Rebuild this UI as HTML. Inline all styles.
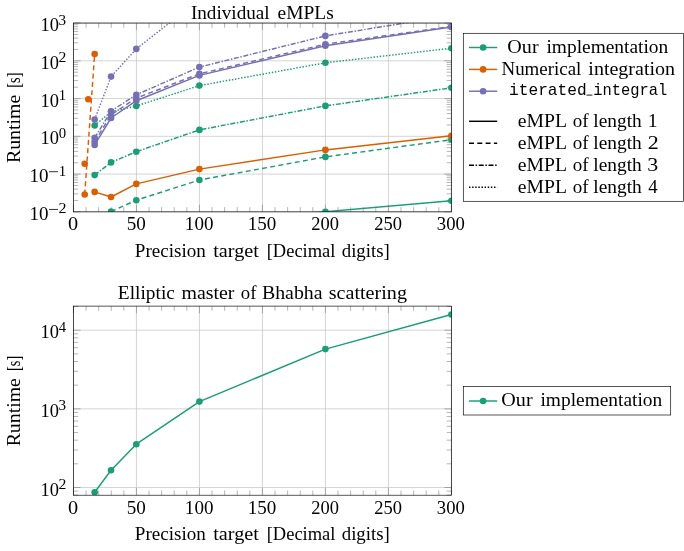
<!DOCTYPE html>
<html><head><meta charset="utf-8"><title>chart</title>
<style>
html,body{margin:0;padding:0;background:#fff;}
body{width:684px;height:551px;overflow:hidden;font-family:"Liberation Serif",serif;}
svg{display:block;will-change:transform;}
text{fill:#000;}
</style></head><body>
<svg width="684" height="551" viewBox="0 0 684 551">
<rect width="684" height="551" fill="#fff"/>
<defs><clipPath id="c1"><rect x="73.45" y="23.05" width="377.95" height="188.8"/></clipPath><clipPath id="c2"><rect x="73.45" y="306.1" width="377.95" height="189.1"/></clipPath></defs>
<line x1="73.45" y1="23.05" x2="73.45" y2="211.85" stroke="#bfbfbf" stroke-width="0.66"/>
<line x1="136.44" y1="23.05" x2="136.44" y2="211.85" stroke="#bfbfbf" stroke-width="0.66"/>
<line x1="199.43" y1="23.05" x2="199.43" y2="211.85" stroke="#bfbfbf" stroke-width="0.66"/>
<line x1="262.43" y1="23.05" x2="262.43" y2="211.85" stroke="#bfbfbf" stroke-width="0.66"/>
<line x1="325.42" y1="23.05" x2="325.42" y2="211.85" stroke="#bfbfbf" stroke-width="0.66"/>
<line x1="388.41" y1="23.05" x2="388.41" y2="211.85" stroke="#bfbfbf" stroke-width="0.66"/>
<line x1="451.4" y1="23.05" x2="451.4" y2="211.85" stroke="#bfbfbf" stroke-width="0.66"/>
<line x1="73.45" y1="211.85" x2="451.4" y2="211.85" stroke="#bfbfbf" stroke-width="0.66"/>
<line x1="73.45" y1="174.09" x2="451.4" y2="174.09" stroke="#bfbfbf" stroke-width="0.66"/>
<line x1="73.45" y1="136.33" x2="451.4" y2="136.33" stroke="#bfbfbf" stroke-width="0.66"/>
<line x1="73.45" y1="98.57" x2="451.4" y2="98.57" stroke="#bfbfbf" stroke-width="0.66"/>
<line x1="73.45" y1="60.81" x2="451.4" y2="60.81" stroke="#bfbfbf" stroke-width="0.66"/>
<line x1="73.45" y1="23.05" x2="451.4" y2="23.05" stroke="#bfbfbf" stroke-width="0.66"/>
<line x1="73.45" y1="211.85" x2="73.45" y2="204.76" stroke="#747474" stroke-width="0.53"/>
<line x1="73.45" y1="23.05" x2="73.45" y2="30.14" stroke="#747474" stroke-width="0.53"/>
<line x1="86.05" y1="211.85" x2="86.05" y2="207.13" stroke="#747474" stroke-width="0.53"/>
<line x1="86.05" y1="23.05" x2="86.05" y2="27.77" stroke="#747474" stroke-width="0.53"/>
<line x1="98.65" y1="211.85" x2="98.65" y2="207.13" stroke="#747474" stroke-width="0.53"/>
<line x1="98.65" y1="23.05" x2="98.65" y2="27.77" stroke="#747474" stroke-width="0.53"/>
<line x1="111.25" y1="211.85" x2="111.25" y2="207.13" stroke="#747474" stroke-width="0.53"/>
<line x1="111.25" y1="23.05" x2="111.25" y2="27.77" stroke="#747474" stroke-width="0.53"/>
<line x1="123.84" y1="211.85" x2="123.84" y2="207.13" stroke="#747474" stroke-width="0.53"/>
<line x1="123.84" y1="23.05" x2="123.84" y2="27.77" stroke="#747474" stroke-width="0.53"/>
<line x1="136.44" y1="211.85" x2="136.44" y2="204.76" stroke="#747474" stroke-width="0.53"/>
<line x1="136.44" y1="23.05" x2="136.44" y2="30.14" stroke="#747474" stroke-width="0.53"/>
<line x1="149.04" y1="211.85" x2="149.04" y2="207.13" stroke="#747474" stroke-width="0.53"/>
<line x1="149.04" y1="23.05" x2="149.04" y2="27.77" stroke="#747474" stroke-width="0.53"/>
<line x1="161.64" y1="211.85" x2="161.64" y2="207.13" stroke="#747474" stroke-width="0.53"/>
<line x1="161.64" y1="23.05" x2="161.64" y2="27.77" stroke="#747474" stroke-width="0.53"/>
<line x1="174.24" y1="211.85" x2="174.24" y2="207.13" stroke="#747474" stroke-width="0.53"/>
<line x1="174.24" y1="23.05" x2="174.24" y2="27.77" stroke="#747474" stroke-width="0.53"/>
<line x1="186.84" y1="211.85" x2="186.84" y2="207.13" stroke="#747474" stroke-width="0.53"/>
<line x1="186.84" y1="23.05" x2="186.84" y2="27.77" stroke="#747474" stroke-width="0.53"/>
<line x1="199.43" y1="211.85" x2="199.43" y2="204.76" stroke="#747474" stroke-width="0.53"/>
<line x1="199.43" y1="23.05" x2="199.43" y2="30.14" stroke="#747474" stroke-width="0.53"/>
<line x1="212.03" y1="211.85" x2="212.03" y2="207.13" stroke="#747474" stroke-width="0.53"/>
<line x1="212.03" y1="23.05" x2="212.03" y2="27.77" stroke="#747474" stroke-width="0.53"/>
<line x1="224.63" y1="211.85" x2="224.63" y2="207.13" stroke="#747474" stroke-width="0.53"/>
<line x1="224.63" y1="23.05" x2="224.63" y2="27.77" stroke="#747474" stroke-width="0.53"/>
<line x1="237.23" y1="211.85" x2="237.23" y2="207.13" stroke="#747474" stroke-width="0.53"/>
<line x1="237.23" y1="23.05" x2="237.23" y2="27.77" stroke="#747474" stroke-width="0.53"/>
<line x1="249.83" y1="211.85" x2="249.83" y2="207.13" stroke="#747474" stroke-width="0.53"/>
<line x1="249.83" y1="23.05" x2="249.83" y2="27.77" stroke="#747474" stroke-width="0.53"/>
<line x1="262.43" y1="211.85" x2="262.43" y2="204.76" stroke="#747474" stroke-width="0.53"/>
<line x1="262.43" y1="23.05" x2="262.43" y2="30.14" stroke="#747474" stroke-width="0.53"/>
<line x1="275.02" y1="211.85" x2="275.02" y2="207.13" stroke="#747474" stroke-width="0.53"/>
<line x1="275.02" y1="23.05" x2="275.02" y2="27.77" stroke="#747474" stroke-width="0.53"/>
<line x1="287.62" y1="211.85" x2="287.62" y2="207.13" stroke="#747474" stroke-width="0.53"/>
<line x1="287.62" y1="23.05" x2="287.62" y2="27.77" stroke="#747474" stroke-width="0.53"/>
<line x1="300.22" y1="211.85" x2="300.22" y2="207.13" stroke="#747474" stroke-width="0.53"/>
<line x1="300.22" y1="23.05" x2="300.22" y2="27.77" stroke="#747474" stroke-width="0.53"/>
<line x1="312.82" y1="211.85" x2="312.82" y2="207.13" stroke="#747474" stroke-width="0.53"/>
<line x1="312.82" y1="23.05" x2="312.82" y2="27.77" stroke="#747474" stroke-width="0.53"/>
<line x1="325.42" y1="211.85" x2="325.42" y2="204.76" stroke="#747474" stroke-width="0.53"/>
<line x1="325.42" y1="23.05" x2="325.42" y2="30.14" stroke="#747474" stroke-width="0.53"/>
<line x1="338.01" y1="211.85" x2="338.01" y2="207.13" stroke="#747474" stroke-width="0.53"/>
<line x1="338.01" y1="23.05" x2="338.01" y2="27.77" stroke="#747474" stroke-width="0.53"/>
<line x1="350.61" y1="211.85" x2="350.61" y2="207.13" stroke="#747474" stroke-width="0.53"/>
<line x1="350.61" y1="23.05" x2="350.61" y2="27.77" stroke="#747474" stroke-width="0.53"/>
<line x1="363.21" y1="211.85" x2="363.21" y2="207.13" stroke="#747474" stroke-width="0.53"/>
<line x1="363.21" y1="23.05" x2="363.21" y2="27.77" stroke="#747474" stroke-width="0.53"/>
<line x1="375.81" y1="211.85" x2="375.81" y2="207.13" stroke="#747474" stroke-width="0.53"/>
<line x1="375.81" y1="23.05" x2="375.81" y2="27.77" stroke="#747474" stroke-width="0.53"/>
<line x1="388.41" y1="211.85" x2="388.41" y2="204.76" stroke="#747474" stroke-width="0.53"/>
<line x1="388.41" y1="23.05" x2="388.41" y2="30.14" stroke="#747474" stroke-width="0.53"/>
<line x1="401.01" y1="211.85" x2="401.01" y2="207.13" stroke="#747474" stroke-width="0.53"/>
<line x1="401.01" y1="23.05" x2="401.01" y2="27.77" stroke="#747474" stroke-width="0.53"/>
<line x1="413.6" y1="211.85" x2="413.6" y2="207.13" stroke="#747474" stroke-width="0.53"/>
<line x1="413.6" y1="23.05" x2="413.6" y2="27.77" stroke="#747474" stroke-width="0.53"/>
<line x1="426.2" y1="211.85" x2="426.2" y2="207.13" stroke="#747474" stroke-width="0.53"/>
<line x1="426.2" y1="23.05" x2="426.2" y2="27.77" stroke="#747474" stroke-width="0.53"/>
<line x1="438.8" y1="211.85" x2="438.8" y2="207.13" stroke="#747474" stroke-width="0.53"/>
<line x1="438.8" y1="23.05" x2="438.8" y2="27.77" stroke="#747474" stroke-width="0.53"/>
<line x1="451.4" y1="211.85" x2="451.4" y2="204.76" stroke="#747474" stroke-width="0.53"/>
<line x1="451.4" y1="23.05" x2="451.4" y2="30.14" stroke="#747474" stroke-width="0.53"/>
<line x1="73.45" y1="211.85" x2="80.54" y2="211.85" stroke="#747474" stroke-width="0.53"/>
<line x1="451.4" y1="211.85" x2="444.31" y2="211.85" stroke="#747474" stroke-width="0.53"/>
<line x1="73.45" y1="200.48" x2="78.17" y2="200.48" stroke="#747474" stroke-width="0.53"/>
<line x1="451.4" y1="200.48" x2="446.68" y2="200.48" stroke="#747474" stroke-width="0.53"/>
<line x1="73.45" y1="193.83" x2="78.17" y2="193.83" stroke="#747474" stroke-width="0.53"/>
<line x1="451.4" y1="193.83" x2="446.68" y2="193.83" stroke="#747474" stroke-width="0.53"/>
<line x1="73.45" y1="189.12" x2="78.17" y2="189.12" stroke="#747474" stroke-width="0.53"/>
<line x1="451.4" y1="189.12" x2="446.68" y2="189.12" stroke="#747474" stroke-width="0.53"/>
<line x1="73.45" y1="185.46" x2="78.17" y2="185.46" stroke="#747474" stroke-width="0.53"/>
<line x1="451.4" y1="185.46" x2="446.68" y2="185.46" stroke="#747474" stroke-width="0.53"/>
<line x1="73.45" y1="182.47" x2="78.17" y2="182.47" stroke="#747474" stroke-width="0.53"/>
<line x1="451.4" y1="182.47" x2="446.68" y2="182.47" stroke="#747474" stroke-width="0.53"/>
<line x1="73.45" y1="179.94" x2="78.17" y2="179.94" stroke="#747474" stroke-width="0.53"/>
<line x1="451.4" y1="179.94" x2="446.68" y2="179.94" stroke="#747474" stroke-width="0.53"/>
<line x1="73.45" y1="177.75" x2="78.17" y2="177.75" stroke="#747474" stroke-width="0.53"/>
<line x1="451.4" y1="177.75" x2="446.68" y2="177.75" stroke="#747474" stroke-width="0.53"/>
<line x1="73.45" y1="175.82" x2="78.17" y2="175.82" stroke="#747474" stroke-width="0.53"/>
<line x1="451.4" y1="175.82" x2="446.68" y2="175.82" stroke="#747474" stroke-width="0.53"/>
<line x1="73.45" y1="174.09" x2="80.54" y2="174.09" stroke="#747474" stroke-width="0.53"/>
<line x1="451.4" y1="174.09" x2="444.31" y2="174.09" stroke="#747474" stroke-width="0.53"/>
<line x1="73.45" y1="162.72" x2="78.17" y2="162.72" stroke="#747474" stroke-width="0.53"/>
<line x1="451.4" y1="162.72" x2="446.68" y2="162.72" stroke="#747474" stroke-width="0.53"/>
<line x1="73.45" y1="156.07" x2="78.17" y2="156.07" stroke="#747474" stroke-width="0.53"/>
<line x1="451.4" y1="156.07" x2="446.68" y2="156.07" stroke="#747474" stroke-width="0.53"/>
<line x1="73.45" y1="151.36" x2="78.17" y2="151.36" stroke="#747474" stroke-width="0.53"/>
<line x1="451.4" y1="151.36" x2="446.68" y2="151.36" stroke="#747474" stroke-width="0.53"/>
<line x1="73.45" y1="147.7" x2="78.17" y2="147.7" stroke="#747474" stroke-width="0.53"/>
<line x1="451.4" y1="147.7" x2="446.68" y2="147.7" stroke="#747474" stroke-width="0.53"/>
<line x1="73.45" y1="144.71" x2="78.17" y2="144.71" stroke="#747474" stroke-width="0.53"/>
<line x1="451.4" y1="144.71" x2="446.68" y2="144.71" stroke="#747474" stroke-width="0.53"/>
<line x1="73.45" y1="142.18" x2="78.17" y2="142.18" stroke="#747474" stroke-width="0.53"/>
<line x1="451.4" y1="142.18" x2="446.68" y2="142.18" stroke="#747474" stroke-width="0.53"/>
<line x1="73.45" y1="139.99" x2="78.17" y2="139.99" stroke="#747474" stroke-width="0.53"/>
<line x1="451.4" y1="139.99" x2="446.68" y2="139.99" stroke="#747474" stroke-width="0.53"/>
<line x1="73.45" y1="138.06" x2="78.17" y2="138.06" stroke="#747474" stroke-width="0.53"/>
<line x1="451.4" y1="138.06" x2="446.68" y2="138.06" stroke="#747474" stroke-width="0.53"/>
<line x1="73.45" y1="136.33" x2="80.54" y2="136.33" stroke="#747474" stroke-width="0.53"/>
<line x1="451.4" y1="136.33" x2="444.31" y2="136.33" stroke="#747474" stroke-width="0.53"/>
<line x1="73.45" y1="124.96" x2="78.17" y2="124.96" stroke="#747474" stroke-width="0.53"/>
<line x1="451.4" y1="124.96" x2="446.68" y2="124.96" stroke="#747474" stroke-width="0.53"/>
<line x1="73.45" y1="118.31" x2="78.17" y2="118.31" stroke="#747474" stroke-width="0.53"/>
<line x1="451.4" y1="118.31" x2="446.68" y2="118.31" stroke="#747474" stroke-width="0.53"/>
<line x1="73.45" y1="113.6" x2="78.17" y2="113.6" stroke="#747474" stroke-width="0.53"/>
<line x1="451.4" y1="113.6" x2="446.68" y2="113.6" stroke="#747474" stroke-width="0.53"/>
<line x1="73.45" y1="109.94" x2="78.17" y2="109.94" stroke="#747474" stroke-width="0.53"/>
<line x1="451.4" y1="109.94" x2="446.68" y2="109.94" stroke="#747474" stroke-width="0.53"/>
<line x1="73.45" y1="106.95" x2="78.17" y2="106.95" stroke="#747474" stroke-width="0.53"/>
<line x1="451.4" y1="106.95" x2="446.68" y2="106.95" stroke="#747474" stroke-width="0.53"/>
<line x1="73.45" y1="104.42" x2="78.17" y2="104.42" stroke="#747474" stroke-width="0.53"/>
<line x1="451.4" y1="104.42" x2="446.68" y2="104.42" stroke="#747474" stroke-width="0.53"/>
<line x1="73.45" y1="102.23" x2="78.17" y2="102.23" stroke="#747474" stroke-width="0.53"/>
<line x1="451.4" y1="102.23" x2="446.68" y2="102.23" stroke="#747474" stroke-width="0.53"/>
<line x1="73.45" y1="100.3" x2="78.17" y2="100.3" stroke="#747474" stroke-width="0.53"/>
<line x1="451.4" y1="100.3" x2="446.68" y2="100.3" stroke="#747474" stroke-width="0.53"/>
<line x1="73.45" y1="98.57" x2="80.54" y2="98.57" stroke="#747474" stroke-width="0.53"/>
<line x1="451.4" y1="98.57" x2="444.31" y2="98.57" stroke="#747474" stroke-width="0.53"/>
<line x1="73.45" y1="87.2" x2="78.17" y2="87.2" stroke="#747474" stroke-width="0.53"/>
<line x1="451.4" y1="87.2" x2="446.68" y2="87.2" stroke="#747474" stroke-width="0.53"/>
<line x1="73.45" y1="80.55" x2="78.17" y2="80.55" stroke="#747474" stroke-width="0.53"/>
<line x1="451.4" y1="80.55" x2="446.68" y2="80.55" stroke="#747474" stroke-width="0.53"/>
<line x1="73.45" y1="75.84" x2="78.17" y2="75.84" stroke="#747474" stroke-width="0.53"/>
<line x1="451.4" y1="75.84" x2="446.68" y2="75.84" stroke="#747474" stroke-width="0.53"/>
<line x1="73.45" y1="72.18" x2="78.17" y2="72.18" stroke="#747474" stroke-width="0.53"/>
<line x1="451.4" y1="72.18" x2="446.68" y2="72.18" stroke="#747474" stroke-width="0.53"/>
<line x1="73.45" y1="69.19" x2="78.17" y2="69.19" stroke="#747474" stroke-width="0.53"/>
<line x1="451.4" y1="69.19" x2="446.68" y2="69.19" stroke="#747474" stroke-width="0.53"/>
<line x1="73.45" y1="66.66" x2="78.17" y2="66.66" stroke="#747474" stroke-width="0.53"/>
<line x1="451.4" y1="66.66" x2="446.68" y2="66.66" stroke="#747474" stroke-width="0.53"/>
<line x1="73.45" y1="64.47" x2="78.17" y2="64.47" stroke="#747474" stroke-width="0.53"/>
<line x1="451.4" y1="64.47" x2="446.68" y2="64.47" stroke="#747474" stroke-width="0.53"/>
<line x1="73.45" y1="62.54" x2="78.17" y2="62.54" stroke="#747474" stroke-width="0.53"/>
<line x1="451.4" y1="62.54" x2="446.68" y2="62.54" stroke="#747474" stroke-width="0.53"/>
<line x1="73.45" y1="60.81" x2="80.54" y2="60.81" stroke="#747474" stroke-width="0.53"/>
<line x1="451.4" y1="60.81" x2="444.31" y2="60.81" stroke="#747474" stroke-width="0.53"/>
<line x1="73.45" y1="49.44" x2="78.17" y2="49.44" stroke="#747474" stroke-width="0.53"/>
<line x1="451.4" y1="49.44" x2="446.68" y2="49.44" stroke="#747474" stroke-width="0.53"/>
<line x1="73.45" y1="42.79" x2="78.17" y2="42.79" stroke="#747474" stroke-width="0.53"/>
<line x1="451.4" y1="42.79" x2="446.68" y2="42.79" stroke="#747474" stroke-width="0.53"/>
<line x1="73.45" y1="38.08" x2="78.17" y2="38.08" stroke="#747474" stroke-width="0.53"/>
<line x1="451.4" y1="38.08" x2="446.68" y2="38.08" stroke="#747474" stroke-width="0.53"/>
<line x1="73.45" y1="34.42" x2="78.17" y2="34.42" stroke="#747474" stroke-width="0.53"/>
<line x1="451.4" y1="34.42" x2="446.68" y2="34.42" stroke="#747474" stroke-width="0.53"/>
<line x1="73.45" y1="31.43" x2="78.17" y2="31.43" stroke="#747474" stroke-width="0.53"/>
<line x1="451.4" y1="31.43" x2="446.68" y2="31.43" stroke="#747474" stroke-width="0.53"/>
<line x1="73.45" y1="28.9" x2="78.17" y2="28.9" stroke="#747474" stroke-width="0.53"/>
<line x1="451.4" y1="28.9" x2="446.68" y2="28.9" stroke="#747474" stroke-width="0.53"/>
<line x1="73.45" y1="26.71" x2="78.17" y2="26.71" stroke="#747474" stroke-width="0.53"/>
<line x1="451.4" y1="26.71" x2="446.68" y2="26.71" stroke="#747474" stroke-width="0.53"/>
<line x1="73.45" y1="24.78" x2="78.17" y2="24.78" stroke="#747474" stroke-width="0.53"/>
<line x1="451.4" y1="24.78" x2="446.68" y2="24.78" stroke="#747474" stroke-width="0.53"/>
<line x1="73.45" y1="23.05" x2="80.54" y2="23.05" stroke="#747474" stroke-width="0.53"/>
<line x1="451.4" y1="23.05" x2="444.31" y2="23.05" stroke="#747474" stroke-width="0.53"/>
<g clip-path="url(#c1)">
<polyline points="199.4,222 325.4,211.7 451.4,200.7" fill="none" stroke="#1b9e77" stroke-width="1.46" stroke-linejoin="round"/>
<circle cx="199.4" cy="222" r="3.3" fill="#1b9e77"/>
<circle cx="325.4" cy="211.7" r="3.3" fill="#1b9e77"/>
<circle cx="451.4" cy="200.7" r="3.3" fill="#1b9e77"/>
<polyline points="111.05,211.6 136.3,200.2 199.4,180 325.4,156.9 451.4,139.7" fill="none" stroke="#1b9e77" stroke-width="1.46" stroke-dasharray="4.98 3.32" stroke-linejoin="round"/>
<circle cx="111.05" cy="211.6" r="3.3" fill="#1b9e77"/>
<circle cx="136.3" cy="200.2" r="3.3" fill="#1b9e77"/>
<circle cx="199.4" cy="180" r="3.3" fill="#1b9e77"/>
<circle cx="325.4" cy="156.9" r="3.3" fill="#1b9e77"/>
<circle cx="451.4" cy="139.7" r="3.3" fill="#1b9e77"/>
<polyline points="94.65,175.1 111.05,162.4 136.3,151.7 199.4,129.9 325.4,105.9 451.4,87.8" fill="none" stroke="#1b9e77" stroke-width="1.46" stroke-dasharray="4.98 1.66 1.46 1.66" stroke-linejoin="round"/>
<circle cx="94.65" cy="175.1" r="3.3" fill="#1b9e77"/>
<circle cx="111.05" cy="162.4" r="3.3" fill="#1b9e77"/>
<circle cx="136.3" cy="151.7" r="3.3" fill="#1b9e77"/>
<circle cx="199.4" cy="129.9" r="3.3" fill="#1b9e77"/>
<circle cx="325.4" cy="105.9" r="3.3" fill="#1b9e77"/>
<circle cx="451.4" cy="87.8" r="3.3" fill="#1b9e77"/>
<polyline points="94.65,125.5 111.05,111.7 136.3,106 199.4,85.6 325.4,62.8 451.4,48.2" fill="none" stroke="#1b9e77" stroke-width="1.46" stroke-dasharray="1.46 1.66" stroke-linejoin="round"/>
<circle cx="94.65" cy="125.5" r="3.3" fill="#1b9e77"/>
<circle cx="111.05" cy="111.7" r="3.3" fill="#1b9e77"/>
<circle cx="136.3" cy="106" r="3.3" fill="#1b9e77"/>
<circle cx="199.4" cy="85.6" r="3.3" fill="#1b9e77"/>
<circle cx="325.4" cy="62.8" r="3.3" fill="#1b9e77"/>
<circle cx="451.4" cy="48.2" r="3.3" fill="#1b9e77"/>
<polyline points="94.65,191.9 111.05,197 136.3,183.9 199.4,169.1 325.4,149.9 451.4,135.7" fill="none" stroke="#d95f02" stroke-width="1.46" stroke-linejoin="round"/>
<circle cx="94.65" cy="191.9" r="3.3" fill="#d95f02"/>
<circle cx="111.05" cy="197" r="3.3" fill="#d95f02"/>
<circle cx="136.3" cy="183.9" r="3.3" fill="#d95f02"/>
<circle cx="199.4" cy="169.1" r="3.3" fill="#d95f02"/>
<circle cx="325.4" cy="149.9" r="3.3" fill="#d95f02"/>
<circle cx="451.4" cy="135.7" r="3.3" fill="#d95f02"/>
<polyline points="84.7,194.5 94.65,54.1" fill="none" stroke="#d95f02" stroke-width="1.46" stroke-dasharray="4.98 3.32" stroke-linejoin="round"/>
<circle cx="84.7" cy="194.5" r="3.3" fill="#d95f02"/>
<circle cx="94.65" cy="54.1" r="3.3" fill="#d95f02"/>
<circle cx="84.7" cy="163.8" r="3.3" fill="#d95f02"/>
<circle cx="88.3" cy="99.2" r="3.3" fill="#d95f02"/>
<polyline points="94.65,144.9 111.05,118 136.3,100.7 199.4,75.4 325.4,45.8 451.4,27" fill="none" stroke="#7570b3" stroke-width="1.46" stroke-linejoin="round"/>
<circle cx="94.65" cy="144.9" r="3.3" fill="#7570b3"/>
<circle cx="111.05" cy="118" r="3.3" fill="#7570b3"/>
<circle cx="136.3" cy="100.7" r="3.3" fill="#7570b3"/>
<circle cx="199.4" cy="75.4" r="3.3" fill="#7570b3"/>
<circle cx="325.4" cy="45.8" r="3.3" fill="#7570b3"/>
<circle cx="451.4" cy="27" r="3.3" fill="#7570b3"/>
<polyline points="94.65,141.7 111.05,114.7 136.3,98.1 199.4,73.8 325.4,44.2 451.4,26.4" fill="none" stroke="#7570b3" stroke-width="1.46" stroke-dasharray="4.98 3.32" stroke-linejoin="round"/>
<circle cx="94.65" cy="141.7" r="3.3" fill="#7570b3"/>
<circle cx="111.05" cy="114.7" r="3.3" fill="#7570b3"/>
<circle cx="136.3" cy="98.1" r="3.3" fill="#7570b3"/>
<circle cx="199.4" cy="73.8" r="3.3" fill="#7570b3"/>
<circle cx="325.4" cy="44.2" r="3.3" fill="#7570b3"/>
<circle cx="451.4" cy="26.4" r="3.3" fill="#7570b3"/>
<polyline points="94.65,137.9 111.05,111.2 136.3,94.7 199.4,67.1 325.4,35.9 451.4,15.5" fill="none" stroke="#7570b3" stroke-width="1.46" stroke-dasharray="4.98 1.66 1.46 1.66" stroke-linejoin="round"/>
<circle cx="94.65" cy="137.9" r="3.3" fill="#7570b3"/>
<circle cx="111.05" cy="111.2" r="3.3" fill="#7570b3"/>
<circle cx="136.3" cy="94.7" r="3.3" fill="#7570b3"/>
<circle cx="199.4" cy="67.1" r="3.3" fill="#7570b3"/>
<circle cx="325.4" cy="35.9" r="3.3" fill="#7570b3"/>
<circle cx="451.4" cy="15.5" r="3.3" fill="#7570b3"/>
<polyline points="94.65,119.5 111.05,76.6 136.3,48.9 199.4,-0.6" fill="none" stroke="#7570b3" stroke-width="1.46" stroke-dasharray="1.46 1.66" stroke-linejoin="round"/>
<circle cx="94.65" cy="119.5" r="3.3" fill="#7570b3"/>
<circle cx="111.05" cy="76.6" r="3.3" fill="#7570b3"/>
<circle cx="136.3" cy="48.9" r="3.3" fill="#7570b3"/>
<circle cx="199.4" cy="-0.6" r="3.3" fill="#7570b3"/>
</g>
<rect x="73.45" y="23.05" width="377.95" height="188.8" fill="none" stroke="#000" stroke-width="0.66"/>
<text x="29.53" y="219.85" font-size="18.1" font-family='"Liberation Serif", serif' textLength="19" lengthAdjust="spacingAndGlyphs">10</text>
<line x1="49" y1="209.45" x2="58" y2="209.45" stroke="#000" stroke-width="0.8"/>
<text x="58.4" y="213.45" font-size="15" font-family='"Liberation Serif", serif' textLength="8" lengthAdjust="spacingAndGlyphs">2</text>
<text x="29.53" y="182.09" font-size="18.1" font-family='"Liberation Serif", serif' textLength="19" lengthAdjust="spacingAndGlyphs">10</text>
<line x1="49" y1="171.69" x2="58" y2="171.69" stroke="#000" stroke-width="0.8"/>
<text x="58.66" y="175.69" font-size="15" font-family='"Liberation Serif", serif' textLength="7.43" lengthAdjust="spacingAndGlyphs">1</text>
<text x="40.47" y="144.33" font-size="18.1" font-family='"Liberation Serif", serif' textLength="18.43" lengthAdjust="spacingAndGlyphs">10</text>
<text x="58.81" y="137.93" font-size="15" font-family='"Liberation Serif", serif' textLength="7.38" lengthAdjust="spacingAndGlyphs">0</text>
<text x="40.47" y="106.57" font-size="18.1" font-family='"Liberation Serif", serif' textLength="18.43" lengthAdjust="spacingAndGlyphs">10</text>
<text x="58.79" y="100.17" font-size="15" font-family='"Liberation Serif", serif' textLength="7.29" lengthAdjust="spacingAndGlyphs">1</text>
<text x="40.47" y="68.81" font-size="18.1" font-family='"Liberation Serif", serif' textLength="18.43" lengthAdjust="spacingAndGlyphs">10</text>
<text x="58.51" y="62.41" font-size="15" font-family='"Liberation Serif", serif' textLength="7.87" lengthAdjust="spacingAndGlyphs">2</text>
<text x="40.47" y="31.05" font-size="18.1" font-family='"Liberation Serif", serif' textLength="18.43" lengthAdjust="spacingAndGlyphs">10</text>
<text x="58.54" y="24.65" font-size="15" font-family='"Liberation Serif", serif' textLength="7.56" lengthAdjust="spacingAndGlyphs">3</text>
<text x="68.01" y="230.4" font-size="18.1" font-family='"Liberation Serif", serif' textLength="10.13" lengthAdjust="spacingAndGlyphs">0</text>
<text x="126.75" y="230.4" font-size="18.1" font-family='"Liberation Serif", serif' textLength="19.08" lengthAdjust="spacingAndGlyphs">50</text>
<text x="184.87" y="230.4" font-size="18.1" font-family='"Liberation Serif", serif' textLength="28.55" lengthAdjust="spacingAndGlyphs">100</text>
<text x="247.77" y="230.4" font-size="18.1" font-family='"Liberation Serif", serif' textLength="28.55" lengthAdjust="spacingAndGlyphs">150</text>
<text x="311.28" y="230.4" font-size="18.1" font-family='"Liberation Serif", serif' textLength="27.72" lengthAdjust="spacingAndGlyphs">200</text>
<text x="374.33" y="230.4" font-size="18.1" font-family='"Liberation Serif", serif' textLength="27.72" lengthAdjust="spacingAndGlyphs">250</text>
<text x="436.87" y="230.4" font-size="18.1" font-family='"Liberation Serif", serif' textLength="27.99" lengthAdjust="spacingAndGlyphs">300</text>
<text x="190.91" y="18.75" font-size="18.3" font-family='"Liberation Serif", serif' textLength="78.71" lengthAdjust="spacingAndGlyphs">Individual</text>
<text x="277.6" y="18.75" font-size="18.3" font-family='"Liberation Serif", serif' textLength="56.11" lengthAdjust="spacingAndGlyphs">eMPLs</text>
<text x="134.88" y="256.9" font-size="18.3" font-family='"Liberation Serif", serif' textLength="71.03" lengthAdjust="spacingAndGlyphs">Precision</text>
<text x="213.22" y="256.9" font-size="18.3" font-family='"Liberation Serif", serif' textLength="45.73" lengthAdjust="spacingAndGlyphs">target</text>
<text x="266.69" y="256.9" font-size="18.3" font-family='"Liberation Serif", serif' textLength="68.78" lengthAdjust="spacingAndGlyphs">[Decimal</text>
<text x="341.73" y="256.9" font-size="18.3" font-family='"Liberation Serif", serif' textLength="48.1" lengthAdjust="spacingAndGlyphs">digits]</text>
<g transform="translate(20.35,117.6) rotate(-90)">
<text x="-45.44" y="0" font-size="18.3" font-family='"Liberation Serif", serif' textLength="68.22" lengthAdjust="spacingAndGlyphs">Runtime</text>
<text x="29.91" y="0" font-size="18.3" font-family='"Liberation Serif", serif' textLength="15.21" lengthAdjust="spacingAndGlyphs">[s]</text>
</g>
<line x1="73.45" y1="306.1" x2="73.45" y2="495.2" stroke="#bfbfbf" stroke-width="0.66"/>
<line x1="136.44" y1="306.1" x2="136.44" y2="495.2" stroke="#bfbfbf" stroke-width="0.66"/>
<line x1="199.43" y1="306.1" x2="199.43" y2="495.2" stroke="#bfbfbf" stroke-width="0.66"/>
<line x1="262.43" y1="306.1" x2="262.43" y2="495.2" stroke="#bfbfbf" stroke-width="0.66"/>
<line x1="325.42" y1="306.1" x2="325.42" y2="495.2" stroke="#bfbfbf" stroke-width="0.66"/>
<line x1="388.41" y1="306.1" x2="388.41" y2="495.2" stroke="#bfbfbf" stroke-width="0.66"/>
<line x1="451.4" y1="306.1" x2="451.4" y2="495.2" stroke="#bfbfbf" stroke-width="0.66"/>
<line x1="73.45" y1="487.5" x2="451.4" y2="487.5" stroke="#bfbfbf" stroke-width="0.66"/>
<line x1="73.45" y1="408.85" x2="451.4" y2="408.85" stroke="#bfbfbf" stroke-width="0.66"/>
<line x1="73.45" y1="330.2" x2="451.4" y2="330.2" stroke="#bfbfbf" stroke-width="0.66"/>
<line x1="73.45" y1="495.2" x2="73.45" y2="488.11" stroke="#747474" stroke-width="0.53"/>
<line x1="73.45" y1="306.1" x2="73.45" y2="313.19" stroke="#747474" stroke-width="0.53"/>
<line x1="86.05" y1="495.2" x2="86.05" y2="490.48" stroke="#747474" stroke-width="0.53"/>
<line x1="86.05" y1="306.1" x2="86.05" y2="310.82" stroke="#747474" stroke-width="0.53"/>
<line x1="98.65" y1="495.2" x2="98.65" y2="490.48" stroke="#747474" stroke-width="0.53"/>
<line x1="98.65" y1="306.1" x2="98.65" y2="310.82" stroke="#747474" stroke-width="0.53"/>
<line x1="111.25" y1="495.2" x2="111.25" y2="490.48" stroke="#747474" stroke-width="0.53"/>
<line x1="111.25" y1="306.1" x2="111.25" y2="310.82" stroke="#747474" stroke-width="0.53"/>
<line x1="123.84" y1="495.2" x2="123.84" y2="490.48" stroke="#747474" stroke-width="0.53"/>
<line x1="123.84" y1="306.1" x2="123.84" y2="310.82" stroke="#747474" stroke-width="0.53"/>
<line x1="136.44" y1="495.2" x2="136.44" y2="488.11" stroke="#747474" stroke-width="0.53"/>
<line x1="136.44" y1="306.1" x2="136.44" y2="313.19" stroke="#747474" stroke-width="0.53"/>
<line x1="149.04" y1="495.2" x2="149.04" y2="490.48" stroke="#747474" stroke-width="0.53"/>
<line x1="149.04" y1="306.1" x2="149.04" y2="310.82" stroke="#747474" stroke-width="0.53"/>
<line x1="161.64" y1="495.2" x2="161.64" y2="490.48" stroke="#747474" stroke-width="0.53"/>
<line x1="161.64" y1="306.1" x2="161.64" y2="310.82" stroke="#747474" stroke-width="0.53"/>
<line x1="174.24" y1="495.2" x2="174.24" y2="490.48" stroke="#747474" stroke-width="0.53"/>
<line x1="174.24" y1="306.1" x2="174.24" y2="310.82" stroke="#747474" stroke-width="0.53"/>
<line x1="186.84" y1="495.2" x2="186.84" y2="490.48" stroke="#747474" stroke-width="0.53"/>
<line x1="186.84" y1="306.1" x2="186.84" y2="310.82" stroke="#747474" stroke-width="0.53"/>
<line x1="199.43" y1="495.2" x2="199.43" y2="488.11" stroke="#747474" stroke-width="0.53"/>
<line x1="199.43" y1="306.1" x2="199.43" y2="313.19" stroke="#747474" stroke-width="0.53"/>
<line x1="212.03" y1="495.2" x2="212.03" y2="490.48" stroke="#747474" stroke-width="0.53"/>
<line x1="212.03" y1="306.1" x2="212.03" y2="310.82" stroke="#747474" stroke-width="0.53"/>
<line x1="224.63" y1="495.2" x2="224.63" y2="490.48" stroke="#747474" stroke-width="0.53"/>
<line x1="224.63" y1="306.1" x2="224.63" y2="310.82" stroke="#747474" stroke-width="0.53"/>
<line x1="237.23" y1="495.2" x2="237.23" y2="490.48" stroke="#747474" stroke-width="0.53"/>
<line x1="237.23" y1="306.1" x2="237.23" y2="310.82" stroke="#747474" stroke-width="0.53"/>
<line x1="249.83" y1="495.2" x2="249.83" y2="490.48" stroke="#747474" stroke-width="0.53"/>
<line x1="249.83" y1="306.1" x2="249.83" y2="310.82" stroke="#747474" stroke-width="0.53"/>
<line x1="262.43" y1="495.2" x2="262.43" y2="488.11" stroke="#747474" stroke-width="0.53"/>
<line x1="262.43" y1="306.1" x2="262.43" y2="313.19" stroke="#747474" stroke-width="0.53"/>
<line x1="275.02" y1="495.2" x2="275.02" y2="490.48" stroke="#747474" stroke-width="0.53"/>
<line x1="275.02" y1="306.1" x2="275.02" y2="310.82" stroke="#747474" stroke-width="0.53"/>
<line x1="287.62" y1="495.2" x2="287.62" y2="490.48" stroke="#747474" stroke-width="0.53"/>
<line x1="287.62" y1="306.1" x2="287.62" y2="310.82" stroke="#747474" stroke-width="0.53"/>
<line x1="300.22" y1="495.2" x2="300.22" y2="490.48" stroke="#747474" stroke-width="0.53"/>
<line x1="300.22" y1="306.1" x2="300.22" y2="310.82" stroke="#747474" stroke-width="0.53"/>
<line x1="312.82" y1="495.2" x2="312.82" y2="490.48" stroke="#747474" stroke-width="0.53"/>
<line x1="312.82" y1="306.1" x2="312.82" y2="310.82" stroke="#747474" stroke-width="0.53"/>
<line x1="325.42" y1="495.2" x2="325.42" y2="488.11" stroke="#747474" stroke-width="0.53"/>
<line x1="325.42" y1="306.1" x2="325.42" y2="313.19" stroke="#747474" stroke-width="0.53"/>
<line x1="338.01" y1="495.2" x2="338.01" y2="490.48" stroke="#747474" stroke-width="0.53"/>
<line x1="338.01" y1="306.1" x2="338.01" y2="310.82" stroke="#747474" stroke-width="0.53"/>
<line x1="350.61" y1="495.2" x2="350.61" y2="490.48" stroke="#747474" stroke-width="0.53"/>
<line x1="350.61" y1="306.1" x2="350.61" y2="310.82" stroke="#747474" stroke-width="0.53"/>
<line x1="363.21" y1="495.2" x2="363.21" y2="490.48" stroke="#747474" stroke-width="0.53"/>
<line x1="363.21" y1="306.1" x2="363.21" y2="310.82" stroke="#747474" stroke-width="0.53"/>
<line x1="375.81" y1="495.2" x2="375.81" y2="490.48" stroke="#747474" stroke-width="0.53"/>
<line x1="375.81" y1="306.1" x2="375.81" y2="310.82" stroke="#747474" stroke-width="0.53"/>
<line x1="388.41" y1="495.2" x2="388.41" y2="488.11" stroke="#747474" stroke-width="0.53"/>
<line x1="388.41" y1="306.1" x2="388.41" y2="313.19" stroke="#747474" stroke-width="0.53"/>
<line x1="401.01" y1="495.2" x2="401.01" y2="490.48" stroke="#747474" stroke-width="0.53"/>
<line x1="401.01" y1="306.1" x2="401.01" y2="310.82" stroke="#747474" stroke-width="0.53"/>
<line x1="413.6" y1="495.2" x2="413.6" y2="490.48" stroke="#747474" stroke-width="0.53"/>
<line x1="413.6" y1="306.1" x2="413.6" y2="310.82" stroke="#747474" stroke-width="0.53"/>
<line x1="426.2" y1="495.2" x2="426.2" y2="490.48" stroke="#747474" stroke-width="0.53"/>
<line x1="426.2" y1="306.1" x2="426.2" y2="310.82" stroke="#747474" stroke-width="0.53"/>
<line x1="438.8" y1="495.2" x2="438.8" y2="490.48" stroke="#747474" stroke-width="0.53"/>
<line x1="438.8" y1="306.1" x2="438.8" y2="310.82" stroke="#747474" stroke-width="0.53"/>
<line x1="451.4" y1="495.2" x2="451.4" y2="488.11" stroke="#747474" stroke-width="0.53"/>
<line x1="451.4" y1="306.1" x2="451.4" y2="313.19" stroke="#747474" stroke-width="0.53"/>
<line x1="73.45" y1="495.12" x2="78.17" y2="495.12" stroke="#747474" stroke-width="0.53"/>
<line x1="451.4" y1="495.12" x2="446.68" y2="495.12" stroke="#747474" stroke-width="0.53"/>
<line x1="73.45" y1="491.1" x2="78.17" y2="491.1" stroke="#747474" stroke-width="0.53"/>
<line x1="451.4" y1="491.1" x2="446.68" y2="491.1" stroke="#747474" stroke-width="0.53"/>
<line x1="73.45" y1="487.5" x2="80.54" y2="487.5" stroke="#747474" stroke-width="0.53"/>
<line x1="451.4" y1="487.5" x2="444.31" y2="487.5" stroke="#747474" stroke-width="0.53"/>
<line x1="73.45" y1="463.82" x2="78.17" y2="463.82" stroke="#747474" stroke-width="0.53"/>
<line x1="451.4" y1="463.82" x2="446.68" y2="463.82" stroke="#747474" stroke-width="0.53"/>
<line x1="73.45" y1="449.97" x2="78.17" y2="449.97" stroke="#747474" stroke-width="0.53"/>
<line x1="451.4" y1="449.97" x2="446.68" y2="449.97" stroke="#747474" stroke-width="0.53"/>
<line x1="73.45" y1="440.15" x2="78.17" y2="440.15" stroke="#747474" stroke-width="0.53"/>
<line x1="451.4" y1="440.15" x2="446.68" y2="440.15" stroke="#747474" stroke-width="0.53"/>
<line x1="73.45" y1="432.53" x2="78.17" y2="432.53" stroke="#747474" stroke-width="0.53"/>
<line x1="451.4" y1="432.53" x2="446.68" y2="432.53" stroke="#747474" stroke-width="0.53"/>
<line x1="73.45" y1="426.3" x2="78.17" y2="426.3" stroke="#747474" stroke-width="0.53"/>
<line x1="451.4" y1="426.3" x2="446.68" y2="426.3" stroke="#747474" stroke-width="0.53"/>
<line x1="73.45" y1="421.03" x2="78.17" y2="421.03" stroke="#747474" stroke-width="0.53"/>
<line x1="451.4" y1="421.03" x2="446.68" y2="421.03" stroke="#747474" stroke-width="0.53"/>
<line x1="73.45" y1="416.47" x2="78.17" y2="416.47" stroke="#747474" stroke-width="0.53"/>
<line x1="451.4" y1="416.47" x2="446.68" y2="416.47" stroke="#747474" stroke-width="0.53"/>
<line x1="73.45" y1="412.45" x2="78.17" y2="412.45" stroke="#747474" stroke-width="0.53"/>
<line x1="451.4" y1="412.45" x2="446.68" y2="412.45" stroke="#747474" stroke-width="0.53"/>
<line x1="73.45" y1="408.85" x2="80.54" y2="408.85" stroke="#747474" stroke-width="0.53"/>
<line x1="451.4" y1="408.85" x2="444.31" y2="408.85" stroke="#747474" stroke-width="0.53"/>
<line x1="73.45" y1="385.17" x2="78.17" y2="385.17" stroke="#747474" stroke-width="0.53"/>
<line x1="451.4" y1="385.17" x2="446.68" y2="385.17" stroke="#747474" stroke-width="0.53"/>
<line x1="73.45" y1="371.32" x2="78.17" y2="371.32" stroke="#747474" stroke-width="0.53"/>
<line x1="451.4" y1="371.32" x2="446.68" y2="371.32" stroke="#747474" stroke-width="0.53"/>
<line x1="73.45" y1="361.5" x2="78.17" y2="361.5" stroke="#747474" stroke-width="0.53"/>
<line x1="451.4" y1="361.5" x2="446.68" y2="361.5" stroke="#747474" stroke-width="0.53"/>
<line x1="73.45" y1="353.88" x2="78.17" y2="353.88" stroke="#747474" stroke-width="0.53"/>
<line x1="451.4" y1="353.88" x2="446.68" y2="353.88" stroke="#747474" stroke-width="0.53"/>
<line x1="73.45" y1="347.65" x2="78.17" y2="347.65" stroke="#747474" stroke-width="0.53"/>
<line x1="451.4" y1="347.65" x2="446.68" y2="347.65" stroke="#747474" stroke-width="0.53"/>
<line x1="73.45" y1="342.38" x2="78.17" y2="342.38" stroke="#747474" stroke-width="0.53"/>
<line x1="451.4" y1="342.38" x2="446.68" y2="342.38" stroke="#747474" stroke-width="0.53"/>
<line x1="73.45" y1="337.82" x2="78.17" y2="337.82" stroke="#747474" stroke-width="0.53"/>
<line x1="451.4" y1="337.82" x2="446.68" y2="337.82" stroke="#747474" stroke-width="0.53"/>
<line x1="73.45" y1="333.8" x2="78.17" y2="333.8" stroke="#747474" stroke-width="0.53"/>
<line x1="451.4" y1="333.8" x2="446.68" y2="333.8" stroke="#747474" stroke-width="0.53"/>
<line x1="73.45" y1="330.2" x2="80.54" y2="330.2" stroke="#747474" stroke-width="0.53"/>
<line x1="451.4" y1="330.2" x2="444.31" y2="330.2" stroke="#747474" stroke-width="0.53"/>
<line x1="73.45" y1="306.52" x2="78.17" y2="306.52" stroke="#747474" stroke-width="0.53"/>
<line x1="451.4" y1="306.52" x2="446.68" y2="306.52" stroke="#747474" stroke-width="0.53"/>
<g clip-path="url(#c2)">
<polyline points="94.65,492.3 111.05,470.2 136.3,444.2 199.4,401.6 325.4,349.1 451.4,314.5" fill="none" stroke="#1b9e77" stroke-width="1.46" stroke-linejoin="round"/>
<circle cx="94.65" cy="492.3" r="3.3" fill="#1b9e77"/>
<circle cx="111.05" cy="470.2" r="3.3" fill="#1b9e77"/>
<circle cx="136.3" cy="444.2" r="3.3" fill="#1b9e77"/>
<circle cx="199.4" cy="401.6" r="3.3" fill="#1b9e77"/>
<circle cx="325.4" cy="349.1" r="3.3" fill="#1b9e77"/>
<circle cx="451.4" cy="314.5" r="3.3" fill="#1b9e77"/>
</g>
<rect x="73.45" y="306.1" width="377.95" height="189.1" fill="none" stroke="#000" stroke-width="0.66"/>
<text x="40.47" y="495.5" font-size="18.1" font-family='"Liberation Serif", serif' textLength="18.43" lengthAdjust="spacingAndGlyphs">10</text>
<text x="58.51" y="489.1" font-size="15" font-family='"Liberation Serif", serif' textLength="7.87" lengthAdjust="spacingAndGlyphs">2</text>
<text x="40.47" y="416.85" font-size="18.1" font-family='"Liberation Serif", serif' textLength="18.43" lengthAdjust="spacingAndGlyphs">10</text>
<text x="58.54" y="410.45" font-size="15" font-family='"Liberation Serif", serif' textLength="7.56" lengthAdjust="spacingAndGlyphs">3</text>
<text x="40.47" y="338.2" font-size="18.1" font-family='"Liberation Serif", serif' textLength="18.43" lengthAdjust="spacingAndGlyphs">10</text>
<text x="58.76" y="331.8" font-size="15" font-family='"Liberation Serif", serif' textLength="7.29" lengthAdjust="spacingAndGlyphs">4</text>
<text x="68.01" y="513.9" font-size="18.1" font-family='"Liberation Serif", serif' textLength="10.13" lengthAdjust="spacingAndGlyphs">0</text>
<text x="126.75" y="513.9" font-size="18.1" font-family='"Liberation Serif", serif' textLength="19.08" lengthAdjust="spacingAndGlyphs">50</text>
<text x="184.87" y="513.9" font-size="18.1" font-family='"Liberation Serif", serif' textLength="28.55" lengthAdjust="spacingAndGlyphs">100</text>
<text x="247.77" y="513.9" font-size="18.1" font-family='"Liberation Serif", serif' textLength="28.55" lengthAdjust="spacingAndGlyphs">150</text>
<text x="311.28" y="513.9" font-size="18.1" font-family='"Liberation Serif", serif' textLength="27.72" lengthAdjust="spacingAndGlyphs">200</text>
<text x="374.33" y="513.9" font-size="18.1" font-family='"Liberation Serif", serif' textLength="27.72" lengthAdjust="spacingAndGlyphs">250</text>
<text x="436.87" y="513.9" font-size="18.1" font-family='"Liberation Serif", serif' textLength="27.99" lengthAdjust="spacingAndGlyphs">300</text>
<text x="117.87" y="298.65" font-size="18.3" font-family='"Liberation Serif", serif' textLength="57.04" lengthAdjust="spacingAndGlyphs">Elliptic</text>
<text x="181.46" y="298.65" font-size="18.3" font-family='"Liberation Serif", serif' textLength="53" lengthAdjust="spacingAndGlyphs">master</text>
<text x="240.83" y="298.65" font-size="18.3" font-family='"Liberation Serif", serif' textLength="15.65" lengthAdjust="spacingAndGlyphs">of</text>
<text x="261.96" y="298.65" font-size="18.3" font-family='"Liberation Serif", serif' textLength="60.62" lengthAdjust="spacingAndGlyphs">Bhabha</text>
<text x="328.78" y="298.65" font-size="18.3" font-family='"Liberation Serif", serif' textLength="78.19" lengthAdjust="spacingAndGlyphs">scattering</text>
<text x="134.88" y="540.2" font-size="18.3" font-family='"Liberation Serif", serif' textLength="71.03" lengthAdjust="spacingAndGlyphs">Precision</text>
<text x="213.22" y="540.2" font-size="18.3" font-family='"Liberation Serif", serif' textLength="45.73" lengthAdjust="spacingAndGlyphs">target</text>
<text x="266.69" y="540.2" font-size="18.3" font-family='"Liberation Serif", serif' textLength="68.78" lengthAdjust="spacingAndGlyphs">[Decimal</text>
<text x="341.73" y="540.2" font-size="18.3" font-family='"Liberation Serif", serif' textLength="48.1" lengthAdjust="spacingAndGlyphs">digits]</text>
<g transform="translate(20.35,400.9) rotate(-90)">
<text x="-45.44" y="0" font-size="18.3" font-family='"Liberation Serif", serif' textLength="68.22" lengthAdjust="spacingAndGlyphs">Runtime</text>
<text x="29.91" y="0" font-size="18.3" font-family='"Liberation Serif", serif' textLength="15.21" lengthAdjust="spacingAndGlyphs">[s]</text>
</g>
<rect x="463.3" y="33.3" width="220.3" height="168" fill="#fff" stroke="#000" stroke-width="0.66"/>
<line x1="469" y1="47.5" x2="497.2" y2="47.5" stroke="#1b9e77" stroke-width="1.46"/>
<circle cx="483.1" cy="47.5" r="3.3" fill="#1b9e77"/>
<line x1="469" y1="69.4" x2="497.2" y2="69.4" stroke="#d95f02" stroke-width="1.46"/>
<circle cx="483.1" cy="69.4" r="3.3" fill="#d95f02"/>
<line x1="469" y1="91.2" x2="497.2" y2="91.2" stroke="#7570b3" stroke-width="1.46"/>
<circle cx="483.1" cy="91.2" r="3.3" fill="#7570b3"/>
<text x="507.38" y="52.7" font-size="18.3" font-family='"Liberation Serif", serif' textLength="31.23" lengthAdjust="spacingAndGlyphs">Our</text>
<text x="546.47" y="52.7" font-size="18.3" font-family='"Liberation Serif", serif' textLength="121.8" lengthAdjust="spacingAndGlyphs">implementation</text>
<text x="501.48" y="74.6" font-size="18.3" font-family='"Liberation Serif", serif' textLength="79.84" lengthAdjust="spacingAndGlyphs">Numerical</text>
<text x="588.35" y="74.6" font-size="18.3" font-family='"Liberation Serif", serif' textLength="86.67" lengthAdjust="spacingAndGlyphs">integration</text>
<text x="509.08" y="95.3" font-size="15.9" font-family='"Liberation Mono", monospace' textLength="77.59" lengthAdjust="spacingAndGlyphs">iterated</text>
<text x="593.13" y="95.3" font-size="15.9" font-family='"Liberation Mono", monospace' textLength="74.15" lengthAdjust="spacingAndGlyphs">integral</text>
<line x1="586.5" y1="95.1" x2="592.4" y2="95.1" stroke="#000" stroke-width="0.9"/>
<line x1="469" y1="121.3" x2="497.2" y2="121.3" stroke="#000" stroke-width="1.46"/>
<line x1="469" y1="143.3" x2="497.2" y2="143.3" stroke="#000" stroke-width="1.46" stroke-dasharray="4.98 3.32"/>
<line x1="469" y1="165.3" x2="497.2" y2="165.3" stroke="#000" stroke-width="1.46" stroke-dasharray="4.98 1.66 1.46 1.66"/>
<line x1="469" y1="187.2" x2="497.2" y2="187.2" stroke="#000" stroke-width="1.46" stroke-dasharray="1.46 1.66"/>
<text x="517.89" y="126.8" font-size="18.3" font-family='"Liberation Serif", serif' textLength="49.2" lengthAdjust="spacingAndGlyphs">eMPL</text>
<text x="572.82" y="126.8" font-size="18.3" font-family='"Liberation Serif", serif' textLength="15.86" lengthAdjust="spacingAndGlyphs">of</text>
<text x="593.33" y="126.8" font-size="18.3" font-family='"Liberation Serif", serif' textLength="48.48" lengthAdjust="spacingAndGlyphs">length</text>
<text x="647.66" y="126.8" font-size="18.1" font-family='"Liberation Serif", serif' textLength="9.88" lengthAdjust="spacingAndGlyphs">1</text>
<text x="517.89" y="148.7" font-size="18.3" font-family='"Liberation Serif", serif' textLength="49.2" lengthAdjust="spacingAndGlyphs">eMPL</text>
<text x="572.82" y="148.7" font-size="18.3" font-family='"Liberation Serif", serif' textLength="15.86" lengthAdjust="spacingAndGlyphs">of</text>
<text x="593.33" y="148.7" font-size="18.3" font-family='"Liberation Serif", serif' textLength="48.48" lengthAdjust="spacingAndGlyphs">length</text>
<text x="647.69" y="148.7" font-size="18.1" font-family='"Liberation Serif", serif' textLength="10.98" lengthAdjust="spacingAndGlyphs">2</text>
<text x="517.89" y="170.7" font-size="18.3" font-family='"Liberation Serif", serif' textLength="49.2" lengthAdjust="spacingAndGlyphs">eMPL</text>
<text x="572.82" y="170.7" font-size="18.3" font-family='"Liberation Serif", serif' textLength="15.86" lengthAdjust="spacingAndGlyphs">of</text>
<text x="593.33" y="170.7" font-size="18.3" font-family='"Liberation Serif", serif' textLength="48.48" lengthAdjust="spacingAndGlyphs">length</text>
<text x="647.39" y="170.7" font-size="18.1" font-family='"Liberation Serif", serif' textLength="10.98" lengthAdjust="spacingAndGlyphs">3</text>
<text x="517.89" y="192.5" font-size="18.3" font-family='"Liberation Serif", serif' textLength="49.2" lengthAdjust="spacingAndGlyphs">eMPL</text>
<text x="572.82" y="192.5" font-size="18.3" font-family='"Liberation Serif", serif' textLength="15.86" lengthAdjust="spacingAndGlyphs">of</text>
<text x="593.33" y="192.5" font-size="18.3" font-family='"Liberation Serif", serif' textLength="48.48" lengthAdjust="spacingAndGlyphs">length</text>
<text x="648.34" y="192.5" font-size="18.1" font-family='"Liberation Serif", serif' textLength="9.37" lengthAdjust="spacingAndGlyphs">4</text>
<rect x="463.3" y="386.5" width="207.4" height="28.5" fill="#fff" stroke="#000" stroke-width="0.66"/>
<line x1="469" y1="401" x2="497.2" y2="401" stroke="#1b9e77" stroke-width="1.46"/>
<circle cx="483.1" cy="401" r="3.3" fill="#1b9e77"/>
<text x="501.38" y="406.2" font-size="18.3" font-family='"Liberation Serif", serif' textLength="31.23" lengthAdjust="spacingAndGlyphs">Our</text>
<text x="540.47" y="406.2" font-size="18.3" font-family='"Liberation Serif", serif' textLength="121.8" lengthAdjust="spacingAndGlyphs">implementation</text>
</svg>
</body></html>
